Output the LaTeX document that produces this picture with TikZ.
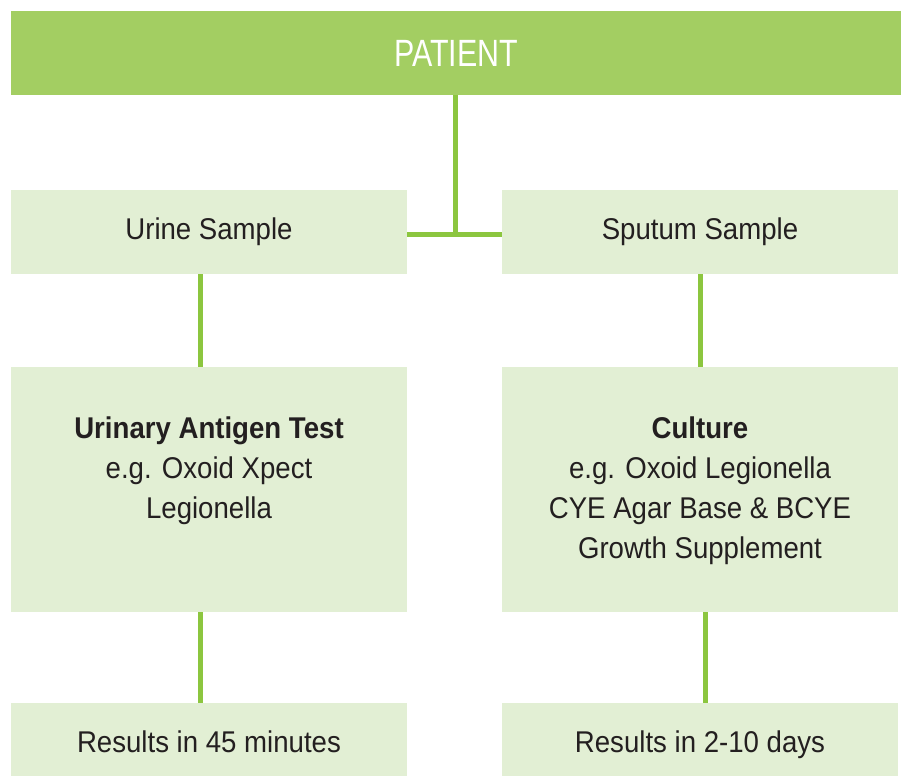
\documentclass[tikz,border=0pt]{standalone}
\usepackage{fontspec}
\setmainfont[FakeStretch=0.92]{Liberation Sans}
\newfontfamily\patfont[FakeStretch=0.8]{Liberation Sans}
\definecolor{topgreen}{HTML}{A3CE62}
\definecolor{paleg}{HTML}{E2EFD4}
\definecolor{lineg}{HTML}{8CC63F}
\definecolor{ink}{HTML}{231F20}
\begin{document}
\begin{tikzpicture}[x=1pt,y=-1pt,
  box/.style={fill=paleg, draw=none, inner sep=0pt, minimum width=396pt},
  txt/.style={text=ink, font=\fontsize{30}{40}\selectfont, align=center, inner sep=0pt},
  conn/.style={draw=lineg, line width=5pt}]
\useasboundingbox (0,0) rectangle (906,776);
% boxes
\node[fill=topgreen, inner sep=0pt, minimum width=890pt, minimum height=84pt,
      text=white, font=\patfont\fontsize{38}{44}\selectfont] (patient) at (456,53) {PATIENT};
\node[box, minimum height=84pt, txt, text height=22pt, text depth=8pt] (urine) at (209,232) {Urine Sample};
\node[box, minimum height=84pt, txt, text height=22pt, text depth=8pt] (sputum) at (700,232) {Sputum Sample};
\node[box, minimum height=245pt] (uat) at (209,489.5) {};
\node[box, minimum height=245pt] (cult) at (700,489.5) {};
\node[box, minimum height=73pt, txt, text height=25pt, text depth=0pt] (res1) at (209,739.5) {Results in 45 minutes};
\node[box, minimum height=73pt, txt, text height=25pt, text depth=0pt] (res2) at (700,739.5) {Results in 2-10 days};
% texts in tall boxes
\node[txt, anchor=north] (uattext) at ([yshift=-50pt]uat.north)
  {\textbf{Urinary Antigen Test}\\e.g. Oxoid Xpect\\Legionella};
\node[txt, anchor=north] (culttext) at ([yshift=-50pt]cult.north)
  {\textbf{Culture}\\e.g. Oxoid Legionella\\CYE Agar Base \& BCYE\\Growth Supplement};
% connectors
\coordinate (junc) at (455,234);
\draw[conn] ([xshift=-1pt]patient.south) -- (junc);
\draw[conn] (urine.east |- junc) -- (sputum.west |- junc);
\draw[conn] ([xshift=-9pt]urine.south) -- ([xshift=-9pt]uat.north);
\draw[conn] (sputum.south) -- (cult.north);
\draw[conn] ([xshift=-9pt]uat.south) -- ([xshift=-9pt]res1.north);
\draw[conn] ([xshift=5pt]cult.south) -- ([xshift=5pt]res2.north);
\end{tikzpicture}
\end{document}
